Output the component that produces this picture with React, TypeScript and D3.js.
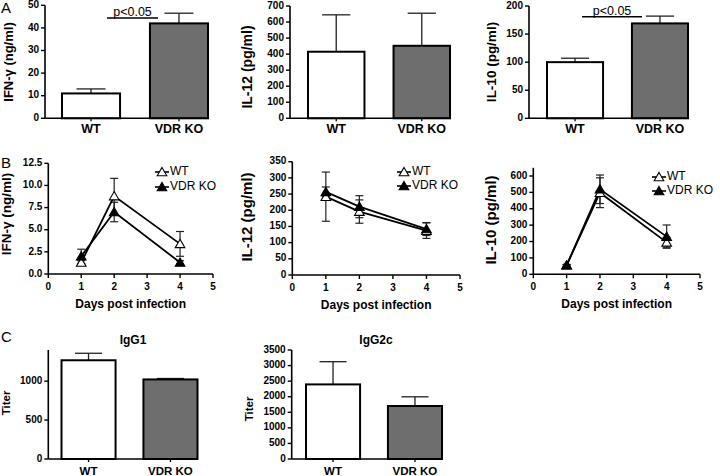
import React from 'react';
import * as d3 from 'd3';

// ---------- DATA ----------
const groups = ['WT', 'VDR KO'];

const ifngBarMeans = [11, 42];
const ifngBarErr = [2, 4.5];
const il12BarMeans = [415, 452];
const il12BarErr = [230, 203];
const il10BarMeans = [100, 169];
const il10BarErr = [7, 13];
const igg1Means = [1268, 1022];
const igg1Err = [90, 12];
const igg2cMeans = [2395, 1702];
const igg2cErr = [730, 295];

const days = [1, 2, 4];
const ifngWT = [1.3, 8.8, 3.4];
const ifngWTErr = [0.2, 2.0, 1.4];
const ifngKO = [2.0, 7.0, 1.3];
const ifngKOErr = [0.8, 1.1, 0.2];
const il12WT = [242, 196, 137];
const il12WTErr = [76, 36, 24];
const il12KO = [257, 211, 142];
const il12KOErr = [15, 34, 20];
const il10WT = [55, 498, 195];
const il10WTErr = [5, 91, 30];
const il10KO = [55, 519, 230];
const il10KOErr = [5, 87, 71];

const ticksIfngBar = [0, 10, 20, 30, 40, 50];
const ticksIl12Bar = [0, 100, 200, 300, 400, 500, 600, 700];
const ticksIl10Bar = [0, 50, 100, 150, 200];
const ticksIfngLine = [0, 2.5, 5, 7.5, 10, 12.5];
const ticksIl12Line = [0, 50, 100, 150, 200, 250, 300, 350];
const ticksIl10Line = [0, 100, 200, 300, 400, 500, 600];
const ticksDays = [0, 1, 2, 3, 4, 5];
const ticksIgg1 = [0, 500, 1000];
const ticksIgg2c = [0, 500, 1000, 1500, 2000, 2500, 3000, 3500];

const FONT = 'Liberation Sans, Arial, Helvetica, sans-serif';
const GRAY = '#6e6e6e';

type BarProps = {
  means: number[]; errs: number[]; ticks: number[]; yMax: number;
  axisX: number; xStart: number; xEnd: number; yTop: number; yBottom: number;
  label: string; labelX: number; labelY: number; labelSize: number;
  catSize: number; catY: number; fmt?: (v: number) => string;
  pval?: { y: number; x0: number; x1: number };
  title?: { text: string; x: number; y: number; size: number };
};

function BarPanel(p: BarProps) {
  const y = d3.scaleLinear().domain([0, p.yMax]).range([p.yBottom, p.yTop]);
  const x = d3.scaleBand<string>().domain(groups).range([p.xStart, p.xEnd]).paddingInner(0.34).paddingOuter(0);
  const bw = x.bandwidth();
  const fmt = p.fmt || ((v: number) => String(v));
  return (
    <g>
      {groups.map((g, i) => {
        const x0 = x(g)!;
        const cx = x0 + bw / 2;
        const top = y(p.means[i]);
        const et = y(p.means[i] + p.errs[i]);
        return (
          <g key={g}>
            <line x1={cx} x2={cx} y1={top} y2={et} stroke="#222" strokeWidth={1.3} />
            <line x1={cx - bw / 4} x2={cx + bw / 4} y1={et} y2={et} stroke="#222" strokeWidth={1.3} />
            <rect x={x0} y={top} width={bw} height={p.yBottom - top}
              fill={i === 0 ? '#fff' : GRAY} stroke="#000" strokeWidth={2} />
            <line x1={cx} x2={cx} y1={p.yBottom} y2={p.yBottom + 3} stroke="#000" strokeWidth={1.3} />
            <text x={cx} y={p.catY} textAnchor="middle" dominantBaseline="middle"
              fontSize={p.catSize} fontWeight="bold" fontFamily={FONT}>{g}</text>
          </g>
        );
      })}
      <line x1={p.axisX} x2={p.axisX} y1={p.yTop} y2={p.yBottom} stroke="#000" strokeWidth={1.6} />
      <line x1={p.axisX} x2={p.xEnd} y1={p.yBottom} y2={p.yBottom} stroke="#000" strokeWidth={1.6} />
      {p.ticks.map(t => (
        <g key={t}>
          <line x1={p.axisX - 4} x2={p.axisX} y1={y(t)} y2={y(t)} stroke="#000" strokeWidth={1.4} />
          <text x={p.axisX - 6} y={y(t)} textAnchor="end" dominantBaseline="middle"
            fontSize={10} fontWeight="bold" fontFamily={FONT}>{fmt(t)}</text>
        </g>
      ))}
      <text transform={`translate(${p.labelX},${p.labelY}) rotate(-90)`} textAnchor="middle"
        dominantBaseline="middle" fontSize={p.labelSize} fontWeight="bold" fontFamily={FONT}>{p.label}</text>
      {p.pval && (
        <g>
          <line x1={p.pval.x0} x2={p.pval.x1} y1={p.pval.y} y2={p.pval.y} stroke="#000" strokeWidth={1.6} />
          <text x={(p.pval.x0 + p.pval.x1) / 2} y={p.pval.y - 2} textAnchor="middle"
            fontSize={12.5} fontFamily={FONT}>p&lt;0.05</text>
        </g>
      )}
      {p.title && (
        <text x={p.title.x} y={p.title.y} textAnchor="middle" dominantBaseline="middle"
          fontSize={p.title.size} fontWeight="bold" fontFamily={FONT}>{p.title.text}</text>
      )}
    </g>
  );
}

type LineProps = {
  wt: number[]; wtErr: number[]; ko: number[]; koErr: number[];
  ticks: number[]; yMax: number; yAxisMax: number; fmt?: (v: number) => string;
  x0: number; x1: number; yTop: number; yBottom: number;
  label: string; labelX: number; labelY: number; labelSize: number;
  legX: number; legY1: number; legY2: number;
};

function Tri({ x, y, filled }: { x: number; y: number; filled: boolean }) {
  const path = d3.symbol(d3.symbolTriangle, 40)()!;
  return <path d={path} transform={`translate(${x},${y + 1})`} fill={filled ? '#000' : '#fff'}
    stroke="#000" strokeWidth={1.1} />;
}

function LinePanel(p: LineProps) {
  const y = d3.scaleLinear().domain([0, p.yMax]).range([p.yBottom, p.yTop]);
  const x = d3.scaleLinear().domain([0, 5]).range([p.x0, p.x1]);
  const line = d3.line<number>().x((_, i) => x(days[i])).y(d => y(d));
  const fmt = p.fmt || ((v: number) => String(v));
  const err = (vals: number[], errs: number[], key: string) => vals.map((v, i) => {
    const cx = x(days[i]);
    const hi = y(v + errs[i]);
    const lo = y(Math.max(0, v - errs[i]));
    return (
      <g key={key + i}>
        <line x1={cx} x2={cx} y1={hi} y2={lo} stroke="#222" strokeWidth={1.2} />
        <line x1={cx - 4} x2={cx + 4} y1={hi} y2={hi} stroke="#222" strokeWidth={1.2} />
        <line x1={cx - 4} x2={cx + 4} y1={lo} y2={lo} stroke="#222" strokeWidth={1.2} />
      </g>
    );
  });
  return (
    <g>
      {err(p.wt, p.wtErr, 'w')}
      {err(p.ko, p.koErr, 'k')}
      <path d={line(p.wt)!} fill="none" stroke="#000" strokeWidth={1.8} />
      <path d={line(p.ko)!} fill="none" stroke="#000" strokeWidth={1.8} />
      {p.wt.map((v, i) => <Tri key={'tw' + i} x={x(days[i])} y={y(v)} filled={false} />)}
      {p.ko.map((v, i) => <Tri key={'tk' + i} x={x(days[i])} y={y(v)} filled={true} />)}
      <line x1={p.x0} x2={p.x0} y1={y(p.yAxisMax)} y2={p.yBottom} stroke="#000" strokeWidth={1.6} />
      <line x1={p.x0} x2={p.x1} y1={p.yBottom} y2={p.yBottom} stroke="#000" strokeWidth={1.6} />
      {p.ticks.map(t => (
        <g key={t}>
          <line x1={p.x0 - 4} x2={p.x0} y1={y(t)} y2={y(t)} stroke="#000" strokeWidth={1.4} />
          <text x={p.x0 - 6} y={y(t)} textAnchor="end" dominantBaseline="middle"
            fontSize={10} fontWeight="bold" fontFamily={FONT}>{fmt(t)}</text>
        </g>
      ))}
      {ticksDays.map(t => (
        <g key={'d' + t}>
          <line x1={x(t)} x2={x(t)} y1={p.yBottom} y2={p.yBottom + 4} stroke="#000" strokeWidth={1.4} />
          <text x={x(t)} y={p.yBottom + 13} textAnchor="middle" dominantBaseline="middle"
            fontSize={10} fontWeight="bold" fontFamily={FONT}>{t}</text>
        </g>
      ))}
      <text x={(p.x0 + p.x1) / 2} y={p.yBottom + 31} textAnchor="middle" dominantBaseline="middle"
        fontSize={12} fontWeight="bold" fontFamily={FONT}>Days post infection</text>
      <text transform={`translate(${p.labelX},${p.labelY}) rotate(-90)`} textAnchor="middle"
        dominantBaseline="middle" fontSize={p.labelSize} fontWeight="bold" fontFamily={FONT}>{p.label}</text>
      {[0, 1].map(i => {
        const ly = i === 0 ? p.legY1 : p.legY2;
        return (
          <g key={'l' + i}>
            <line x1={p.legX} x2={p.legX + 14} y1={ly} y2={ly} stroke="#000" strokeWidth={1.6} />
            <Tri x={p.legX + 7} y={ly} filled={i === 1} />
            <text x={p.legX + 15} y={ly} dominantBaseline="middle" fontSize={12}
              fontFamily={FONT}>{groups[i]}</text>
          </g>
        );
      })}
    </g>
  );
}

const f1 = (v: number) => v.toFixed(1);

export default function App() {
  return (
    <svg width={720} height={476} style={{ position: 'absolute', left: 0, top: 0, background: '#fff' }}>
      <rect width={720} height={476} fill="#fff" />
      <text x={1} y={13} fontSize={15} fontFamily={FONT}>A</text>
      <text x={1} y={168} fontSize={15} fontFamily={FONT}>B</text>
      <text x={1} y={342} fontSize={15} fontFamily={FONT}>C</text>

      <BarPanel means={ifngBarMeans} errs={ifngBarErr} ticks={ticksIfngBar} yMax={50}
        axisX={45} xStart={62} xEnd={208} yTop={5.3} yBottom={118.3}
        label="IFN-γ (ng/ml)" labelX={10} labelY={62} labelSize={13}
        catSize={12.5} catY={130} pval={{ y: 18, x0: 107, x1: 158 }} />
      <BarPanel means={il12BarMeans} errs={il12BarErr} ticks={ticksIl12Bar} yMax={700}
        axisX={290} xStart={308} xEnd={450} yTop={6} yBottom={118.3}
        label="IL-12 (pg/ml)" labelX={248} labelY={67} labelSize={14}
        catSize={12.5} catY={130} />
      <BarPanel means={il10BarMeans} errs={il10BarErr} ticks={ticksIl10Bar} yMax={200}
        axisX={529} xStart={547} xEnd={688} yTop={6} yBottom={118.3}
        label="IL-10 (pg/ml)" labelX={492} labelY={62} labelSize={13.5}
        catSize={12.5} catY={130} pval={{ y: 16.7, x0: 582, x1: 642 }} />

      <LinePanel wt={ifngWT} wtErr={ifngWTErr} ko={ifngKO} koErr={ifngKOErr}
        ticks={ticksIfngLine} yMax={12.5} yAxisMax={12.5} fmt={f1}
        x0={48.3} x1={213} yTop={163.3} yBottom={274}
        label="IFN-γ (ng/ml)" labelX={7} labelY={214} labelSize={13.5}
        legX={155} legY1={172} legY2={187} />
      <LinePanel wt={il12WT} wtErr={il12WTErr} ko={il12KO} koErr={il12KOErr}
        ticks={ticksIl12Line} yMax={350} yAxisMax={350}
        x0={292.3} x1={460} yTop={161.7} yBottom={275}
        label="IL-12 (pg/ml)" labelX={248} labelY={217} labelSize={15}
        legX={397} legY1={172} legY2={186} />
      <LinePanel wt={il10WT} wtErr={il10WTErr} ko={il10KO} koErr={il10KOErr}
        ticks={ticksIl10Line} yMax={600} yAxisMax={650}
        x0={533.3} x1={700} yTop={176} yBottom={274.3}
        label="IL-10 (pg/ml)" labelX={492} labelY={220} labelSize={15}
        legX={652} legY1={177} legY2={191} />

      <BarPanel means={igg1Means} errs={igg1Err} ticks={ticksIgg1} yMax={1400}
        axisX={48.3} xStart={61.5} xEnd={197.5} yTop={350} yBottom={459}
        label="Titer" labelX={7} labelY={403} labelSize={11.5}
        catSize={11.5} catY={471.5} title={{ text: 'IgG1', x: 133, y: 341, size: 12 }} />
      <BarPanel means={igg2cMeans} errs={igg2cErr} ticks={ticksIgg2c} yMax={3500}
        axisX={291.7} xStart={306} xEnd={442} yTop={350} yBottom={459}
        label="Titer" labelX={250} labelY={409} labelSize={11.5}
        catSize={11.5} catY={471.5} title={{ text: 'IgG2c', x: 376, y: 341, size: 12 }} />
    </svg>
  );
}
